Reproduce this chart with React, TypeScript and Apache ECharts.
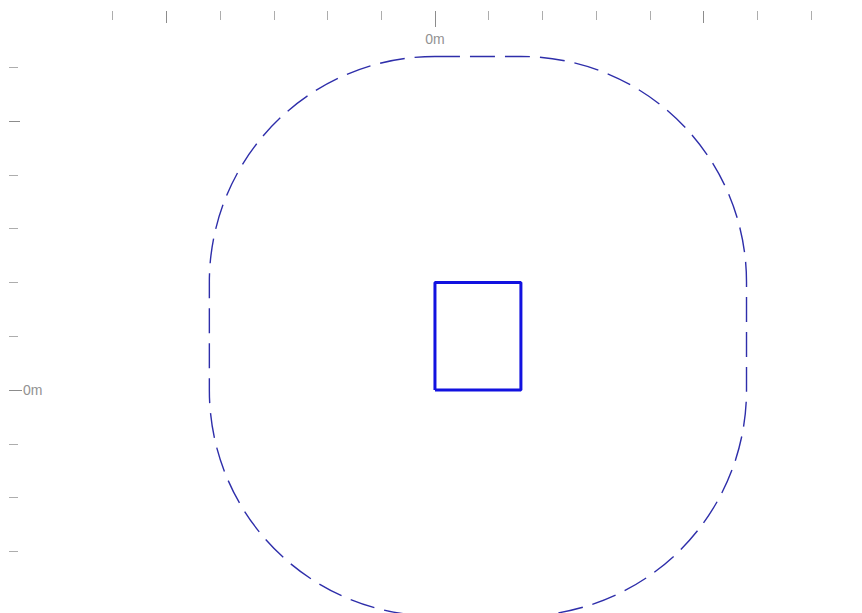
import React, { useEffect, useRef } from "react";
import * as echarts from "echarts";

// Axis ticks (metres)
const xMinorTicks = [-6, -5, -4, -3, -2, -1, 0, 1, 2, 3, 4, 5, 6, 7];
const xMajorTicks = [-5, 5];
const yMinorTicks = [-3, -2, -1, 0, 1, 2, 3, 4, 5, 6];
const yMajorTicks = [5];
const originTicks = [0];

// Footprint rectangle corners (x, y in metres)
const footprintX = [0, 1.6, 1.6, 0, 0];
const footprintY = [0, 0, 2, 2, 0];

// Clearance zone: [xmin, ymin, xmax, ymax, cornerRadius]
const clearanceZone = [-4.2, -4.2, 5.8, 6.2, 4.2];

const xRange = [-7.93, 7.95];
const yRange = [-4.145, 7.045];

const minorTickColor = "#adadad";
const majorTickColor = "#8c8c8c";
const labelStyle = {
  color: "#929292",
  fontSize: 14,
  fontFamily: "Liberation Sans, Arial, sans-serif",
};

function makeXAxis(ticks: number[], len: number, color: string, withLabel: boolean) {
  return {
    type: "value",
    position: "top",
    min: xRange[0],
    max: xRange[1],
    axisLine: { show: false, onZero: false },
    splitLine: { show: false },
    axisTick: {
      show: true,
      inside: true,
      length: len,
      customValues: ticks,
      lineStyle: { color, width: 1 },
    },
    axisLabel: withLabel
      ? {
          show: true,
          inside: true,
          margin: 21,
          customValues: originTicks,
          formatter: (v: number) => `${v}m`,
          ...labelStyle,
        }
      : { show: false },
  };
}

function makeYAxis(ticks: number[], len: number, color: string, withLabel: boolean) {
  return {
    type: "value",
    position: "left",
    min: yRange[0],
    max: yRange[1],
    axisLine: { show: false, onZero: false },
    splitLine: { show: false },
    axisTick: {
      show: true,
      inside: true,
      length: len,
      customValues: ticks,
      lineStyle: { color, width: 1 },
    },
    axisLabel: withLabel
      ? {
          show: true,
          inside: true,
          margin: 14,
          customValues: originTicks,
          formatter: (v: number) => `${v}m`,
          ...labelStyle,
        }
      : { show: false },
  };
}

export default function App() {
  const ref = useRef<HTMLDivElement>(null);

  useEffect(() => {
    if (!ref.current) return;
    const chart = echarts.init(ref.current, undefined, { renderer: "svg" });
    chart.setOption({
      animation: false,
      backgroundColor: "#ffffff",
      grid: { left: 9, top: 11, right: 0, bottom: 0, containLabel: false },
      xAxis: [
        makeXAxis(xMinorTicks, 9, minorTickColor, false),
        makeXAxis(xMajorTicks, 12, majorTickColor, false),
        makeXAxis(originTicks, 16, majorTickColor, true),
      ],
      yAxis: [
        makeYAxis(yMinorTicks, 9, minorTickColor, false),
        makeYAxis(yMajorTicks, 11, majorTickColor, false),
        makeYAxis(originTicks, 13, majorTickColor, true),
      ],
      series: [
        {
          type: "custom",
          xAxisIndex: 0,
          yAxisIndex: 0,
          clip: false,
          silent: true,
          encode: { x: [0, 2], y: [1, 3] },
          data: [clearanceZone],
          renderItem: (params: any, api: any) => {
            const tl = api.coord([api.value(0), api.value(3)]);
            const br = api.coord([api.value(2), api.value(1)]);
            const r = api.size([api.value(4), 0])[0];
            return {
              type: "rect",
              shape: {
                x: tl[0],
                y: tl[1],
                width: br[0] - tl[0],
                height: br[1] - tl[1],
                r,
              },
              style: {
                fill: "none",
                stroke: "#2e2eaa",
                lineWidth: 1.4,
                lineDash: [25, 10],
              },
            };
          },
        },
        {
          type: "line",
          xAxisIndex: 0,
          yAxisIndex: 0,
          symbol: "none",
          silent: true,
          data: footprintX.map((x, i) => [x, footprintY[i]]),
          lineStyle: { color: "#1212e0", width: 3 },
        },
      ],
    });
    return () => chart.dispose();
  }, []);

  return (
    <div
      ref={ref}
      style={{
        position: "fixed",
        left: 0,
        top: 0,
        width: 862,
        height: 613,
        background: "#fff",
      }}
    />
  );
}
